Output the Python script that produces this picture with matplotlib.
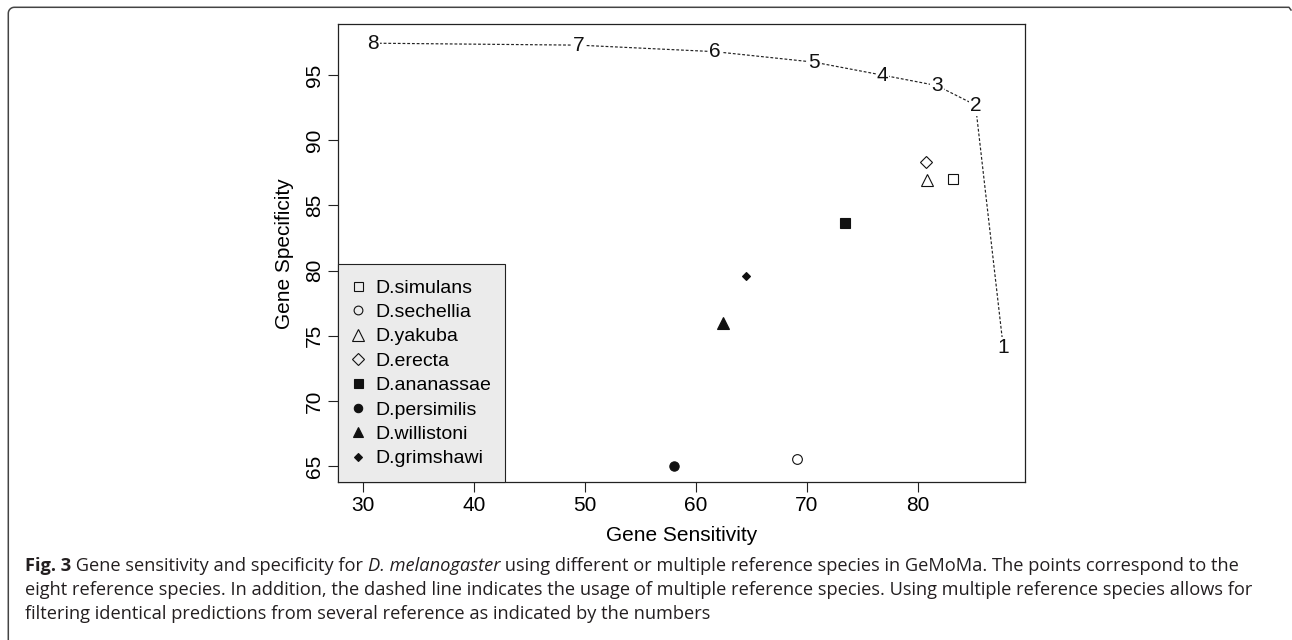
import matplotlib
matplotlib.use('Agg')
import matplotlib.pyplot as plt
from matplotlib.lines import Line2D
import numpy as np

plt.rcParams['font.family'] = ['Liberation Sans', 'DejaVu Sans']

# single reference species
species = ['D.simulans', 'D.sechellia', 'D.yakuba', 'D.erecta',
           'D.ananassae', 'D.persimilis', 'D.willistoni', 'D.grimshawi']
sensitivity = [83.2, 69.1, 80.8, 80.7, 73.4, 58.0, 62.4, 64.5]
specificity = [87.0, 65.5, 86.95, 88.35, 83.65, 65.0, 76.0, 79.55]
markers = ['s', 'o', '^', 'D', 's', 'o', '^', 'D']
filled = [False, False, False, False, True, True, True, True]
msizes = [7.2, 7.0, 9.0, 6.6, 7.2, 6.7, 8.6, 4.4]

# multiple reference species (dashed line, labelled by number)
multi_labels = ['1', '2', '3', '4', '5', '6', '7', '8']
multi_sens = [87.7, 85.2, 81.7, 76.8, 70.6, 61.7, 49.4, 30.9]
multi_spec = [74.1, 92.7, 94.2, 95.0, 96.0, 96.8, 97.3, 97.45]

W, H = 1292, 640
fig = plt.figure(figsize=(W / 100, H / 100), dpi=100)
ax = fig.add_axes([338 / W, 1 - 482 / H, (1025 - 338) / W, (482 - 24.3) / H])

# dashed line with number labels
ax.plot(multi_sens, multi_spec, ls=(0, (2.4, 1.6)), lw=0.85, color='#222222', zorder=2)
for lab, x, y in zip(multi_labels, multi_sens, multi_spec):
    ax.text(x, y, lab, ha='center', va='center', fontsize=15, color='#111111', zorder=3,
            bbox=dict(boxstyle='square,pad=0.05', fc='white', ec='none'))

# points
handles = []
for name, x, y, m, f, s in zip(species, sensitivity, specificity, markers, filled, msizes):
    fc = '#111111' if f else 'none'
    ax.plot([x], [y], marker=m, ms=s, mfc=fc, mec='#111111', mew=0.8, ls='none', zorder=4)
    handles.append(Line2D([], [], marker=m, ms=s * 0.9, mfc=fc, mec='#111111', mew=0.8,
                          ls='none', label=name))

ax.set_xlim(27.72, 89.66)
ax.set_ylim(63.77, 98.9)
ax.set_xticks(np.arange(30, 81, 10))
ax.set_yticks(np.arange(65, 96, 5))
ax.tick_params(axis='both', labelsize=15, length=7, width=0.8, pad=3, color='#222222')
ax.tick_params(axis='y', labelrotation=90)
for lab in ax.get_yticklabels():
    lab.set_verticalalignment('center')
for sp in ax.spines.values():
    sp.set_linewidth(0.9)
    sp.set_color('#222222')

ax.set_xlabel('Gene Sensitivity', fontsize=15, labelpad=8)
ax.set_ylabel('Gene Specificity', fontsize=15, labelpad=8)

leg = ax.legend(handles=handles, loc='lower left', bbox_to_anchor=(0, 0), borderaxespad=0,
                fancybox=False, facecolor='#ebebeb', edgecolor='#222222', framealpha=1,
                fontsize=14, handlelength=0.6, handletextpad=0.55, labelspacing=0.35,
                borderpad=0.75)
leg.get_frame().set_linewidth(0.8)

# outer figure frame (top and left only, rounded corner)
r = 6
t = np.linspace(np.pi, np.pi / 2, 10)
cx, cy = 8.3 + r, 7.3 + r
px = np.concatenate([[8.3], cx + r * np.cos(t), [1289, 1291]])
py = np.concatenate([[H], cy - r * np.sin(t), [7.3, 10]])
fig.add_artist(Line2D(px / W, 1 - py / H, transform=fig.transFigure, color='#444444', lw=1.1))

# caption
cap_color = '#231f20'
cap_font = ['Open Sans', 'DejaVu Sans']
line1 = [('Fig. 3', 'normal', 'bold'),
         (' Gene sensitivity and specificity for ', 'normal', 'normal'),
         ('D. melanogaster', 'italic', 'normal'),
         (' using different or multiple reference species in GeMoMa. The points correspond to the',
          'normal', 'normal')]
line2 = ('eight reference species. In addition, the dashed line indicates the usage of multiple '
         'reference species. Using multiple reference species allows for')
line3 = 'filtering identical predictions from several reference as indicated by the numbers'

fig.canvas.draw()
rend = fig.canvas.get_renderer()
probe = fig.text(0, 0, line2, fontsize=12, family=cap_font)
w = probe.get_window_extent(rend).width
probe.remove()
cap_size = 12 * (1224 / w)

x0 = 25
ys = [566, 590, 614]
x = x0
for txt, style, weight in line1:
    tt = fig.text(x / W, 1 - ys[0] / H, txt, fontsize=cap_size, family=cap_font, style=style,
                  weight=weight, color=cap_color, va='center', ha='left')
    x += tt.get_window_extent(rend).width
fig.text(x0 / W, 1 - ys[1] / H, line2, fontsize=cap_size, family=cap_font, color=cap_color,
         va='center', ha='left')
fig.text(x0 / W, 1 - ys[2] / H, line3, fontsize=cap_size, family=cap_font, color=cap_color,
         va='center', ha='left')

fig.savefig('out.png', dpi=100, facecolor='white')
